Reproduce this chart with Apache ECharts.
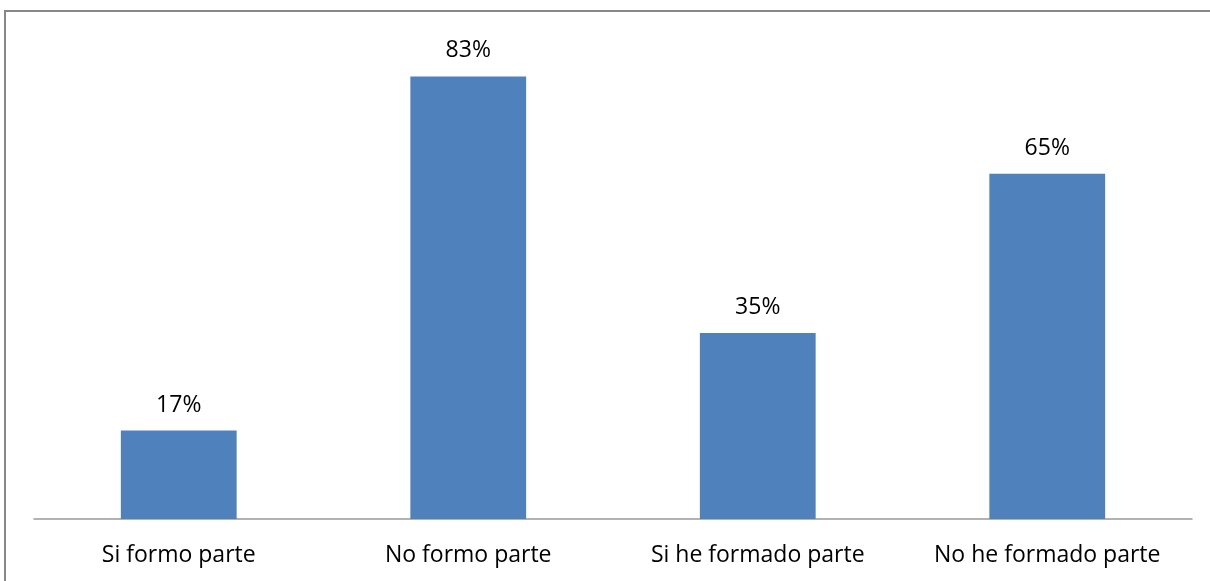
<!DOCTYPE html>
<html>
<head>
<meta charset="utf-8">
<script src="https://cdn.jsdelivr.net/npm/echarts@6/dist/echarts.min.js"></script>
<style>
html,body{margin:0;padding:0;background:#fff;}
#chart{width:1210px;height:581px;}
</style>
</head>
<body>
<div id="chart"></div>
<script>
const categories = ["Si formo parte", "No formo parte", "Si he formado parte", "No he formado parte"];
const values = [16.67, 83.33, 35, 65];

const chart = echarts.init(document.getElementById('chart'), null, {renderer: 'canvas'});
const FONT = "'Open Sans', 'Noto Sans', sans-serif";
chart.setOption({
  animation: false,
  backgroundColor: '#ffffff',
  graphic: [{
    type: 'rect',
    shape: {x: 5, y: 11, width: 1400, height: 800},
    style: {fill: 'none', stroke: '#878787', lineWidth: 2},
    silent: true
  }],
  grid: {left: 34, right: 18, top: 41, bottom: 62, containLabel: false},
  xAxis: {
    type: 'category',
    data: categories,
    axisLine: {show: true, lineStyle: {color: '#999999', width: 1.5}},
    axisTick: {show: false},
    axisLabel: {color: '#000000', fontSize: 23, fontFamily: FONT, margin: 25, interval: 0, hideOverlap: false}
  },
  yAxis: {
    type: 'value',
    min: 0, max: 90, interval: 10,
    show: false,
    splitLine: {show: false}
  },
  series: [{
    type: 'bar',
    data: values,
    barWidth: '40%',
    itemStyle: {color: '#4F81BD'},
    label: {
      show: true,
      position: 'top',
      distance: 14,
      color: '#000000',
      fontSize: 23,
      fontFamily: FONT,
      formatter: p => Math.round(p.value) + '%'
    }
  }]
});
</script>
</body>
</html>
